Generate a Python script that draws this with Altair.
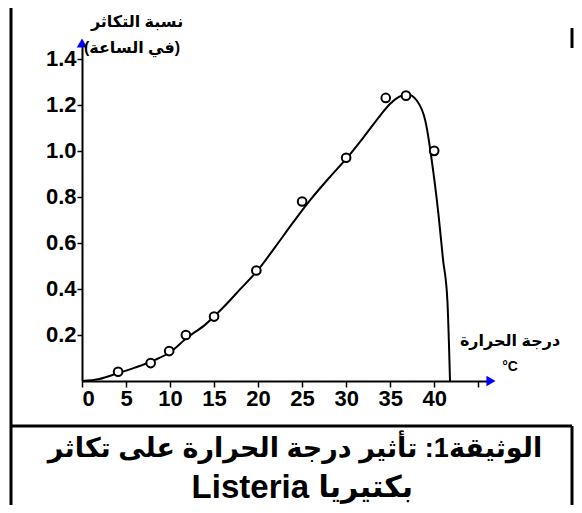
import altair as alt
import pandas as pd

# measured points (temperature °C, growth rate per hour)
pt_temp = [4.1, 7.8, 9.9, 11.8, 15.0, 19.8, 25.0, 30.0, 34.5, 36.8, 40.0]
pt_rate = [0.04, 0.078, 0.13, 0.20, 0.28, 0.48, 0.78, 0.97, 1.23, 1.24, 1.00]

# fitted curve
cv_temp = [0, 2, 4, 6, 8, 10, 12, 14, 16, 18, 20, 22, 24, 26, 28, 30, 32, 34,
           35, 36, 37, 38, 39, 40, 40.5, 41, 41.5, 41.8]
cv_rate = [0, 0.009, 0.033, 0.058, 0.087, 0.125, 0.19, 0.245, 0.318, 0.40,
           0.483, 0.585, 0.69, 0.79, 0.88, 0.965, 1.06, 1.16, 1.205, 1.235,
           1.245, 1.22, 1.13, 0.88, 0.72, 0.53, 0.35, 0.0]

x_ticks = [0, 5, 10, 15, 20, 25, 30, 35, 40, 45]
y_ticks = [0.2, 0.4, 0.6, 0.8, 1.0, 1.2, 1.4]

y_title = ["نسبة التكاثر", "(في الساعة)"]
x_title = ["درجة الحرارة", "°C"]
doc_title_1 = "الوثيقة1: تأثير درجة الحرارة على تكاثر"
doc_title_2_ar = "بكتيريا"
doc_title_2_lat = "Listeria"

W, H = 405, 336
TOTAL_W, TOTAL_H = 566, 497
PAD_L, PAD_T = 74, 37
pts = pd.DataFrame({"t": pt_temp, "r": pt_rate})
cv = pd.DataFrame({"t": cv_temp, "r": cv_rate})

TICKFONT = "Liberation Sans Narrow, Arial Narrow, Liberation Sans, sans-serif"
ARFONT = "Liberation Sans, Arial, DejaVu Sans, sans-serif"

xs = alt.Scale(domain=[0, 46], nice=False, zero=False)
ys = alt.Scale(domain=[0, 1.46], nice=False, zero=False)

xaxis = alt.Axis(values=x_ticks, title=None, grid=False, domainColor="black",
                 domainWidth=2, tickColor="black", tickWidth=1.5, tickSize=6,
                 labelFont=TICKFONT, labelFontSize=22, labelFontWeight="bold",
                 labelColor="black", labelPadding=1,
                 labelExpr="datum.value >= 45 ? '' : datum.label")
yaxis = alt.Axis(values=y_ticks, title=None, grid=False, domainColor="black",
                 domainWidth=2, tickColor="black", tickWidth=1.5, tickSize=5,
                 labelFont=TICKFONT, labelFontSize=22, labelFontWeight="bold",
                 labelColor="black", labelPadding=1, format=".1f")

curve = alt.Chart(cv).mark_line(color="black", strokeWidth=2,
                                interpolate="monotone").encode(
    x=alt.X("t:Q", scale=xs, axis=xaxis),
    y=alt.Y("r:Q", scale=ys, axis=yaxis),
)
points = alt.Chart(pts).mark_point(shape="circle", size=75, filled=False,
                                   color="black", strokeWidth=2,
                                   fill="white", fillOpacity=1).encode(
    x=alt.X("t:Q", scale=xs), y=alt.Y("r:Q", scale=ys))

base = alt.Chart(pd.DataFrame({"a": [0]}))
arrow_up = base.mark_point(shape="triangle-up", filled=True, color="#0000ff",
                           size=110, opacity=1).encode(
    x=alt.value(0), y=alt.value(-2))
arrow_right = base.mark_point(shape="triangle-right", filled=True,
                              color="#0000ff", size=110, opacity=1).encode(
    x=alt.value(W + 4), y=alt.value(H))

def txt(s, x, y, size, weight="normal", align="center", font=ARFONT):
    return base.mark_text(text=s, font=font, fontSize=size, fontWeight=weight,
                          color="black", align=align,
                          baseline="middle").encode(x=alt.value(x),
                                                    y=alt.value(y))

texts = [
    txt(y_title[0], 55, -23, 16, "bold"),
    txt(y_title[1], 50, 3, 16, "bold"),
    txt(x_title[0], 428, 296, 16, "bold"),
    txt(x_title[1], 428, 322, 14, "bold"),
    txt(doc_title_1, 213, 404, 27, "bold"),
    txt(doc_title_2_lat, 227, 443, 33, "bold", align="right"),
    txt(doc_title_2_ar, 331, 443, 30, "bold", align="right"),
]

def rule(x, y, x2=None, y2=None, w=3):
    enc = dict(x=alt.value(x), y=alt.value(y))
    if x2 is not None:
        enc["x2"] = alt.value(x2)
    if y2 is not None:
        enc["y2"] = alt.value(y2)
    return base.mark_rule(color="black", strokeWidth=w).encode(**enc)

BOTTOM = TOTAL_H - PAD_T
RIGHT = TOTAL_W - PAD_L - 2
frame = [
    rule(-71, -40, x2=RIGHT - 1),    # top border
    rule(-71, -40, y2=BOTTOM),       # left border
    rule(-71, 381, x2=RIGHT),        # separator
    rule(RIGHT, 381, y2=BOTTOM),     # right border (title box)
    rule(RIGHT, -17, y2=3),          # right stub
]

chart = alt.layer(curve, points, arrow_up, arrow_right, *texts, *frame).properties(
    width=W, height=H,
    autosize=alt.AutoSizeParams(type="none"),
    padding={"left": PAD_L, "top": PAD_T, "right": TOTAL_W - PAD_L - W,
             "bottom": TOTAL_H - PAD_T - H},
    background="white",
).configure_view(stroke=None)

chart.save("out.html", embed_options={"renderer": "svg", "actions": False})
